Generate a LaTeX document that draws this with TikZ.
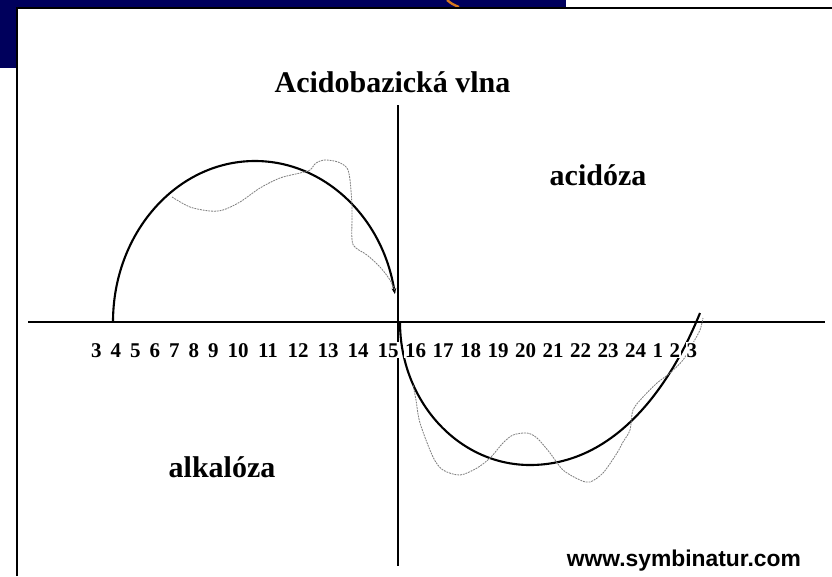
\documentclass[tikz,border=0pt]{standalone}
\usepackage{fontspec}
\setmainfont{Liberation Serif}
\newfontfamily\urlfont{Liberation Sans}
\usetikzlibrary{arrows.meta}
\definecolor{slideblue}{RGB}{0,0,92}
\definecolor{swirl}{RGB}{214,120,30}

\begin{document}
\begin{tikzpicture}[x=0.03cm,y=-0.03cm,
  axis/.style={line width=1.9pt},
  wave/.style={line width=1.8pt},
  trace/.style={line width=0.7pt,gray,dash pattern=on 1.6pt off 0.8pt},
  hour/.style={fill=white,inner sep=0.6pt,anchor=base,font=\fontsize{17.9}{20}\selectfont\bfseries},
  zone/.style={anchor=base,font=\fontsize{25.6}{30}\selectfont\bfseries}]
\useasboundingbox (0,0) rectangle (832,576);
% slide behind the picture
\fill[white] (0,0) rectangle (832,576);
\fill[slideblue] (0,0) rectangle (566,7);
\fill[slideblue] (0,0) rectangle (16,68);
\draw[swirl,line width=2pt] (447,0) .. controls (452,4) .. (459,7);
\draw[line width=1.8pt] (17,576) -- (17,8) -- (832,8);
% axes
\coordinate (W) at (28,322);
\coordinate (E) at (825,322);
\coordinate (N) at (398,105);
\coordinate (S) at (398,566);
\draw[axis] (W) -- (E);
\draw[axis] (N) -- (S);
% the two half waves
\coordinate (A) at (113,322);
\coordinate (B) at (400,322);
\coordinate (C) at (700,313);
\draw[wave,-{Stealth[length=5pt,width=4pt]}] (A) arc (180:350:142 and 161);
\draw[wave] (B) arc (180:90:130 and 143) .. controls (612,465) and (668,392) .. (C);
% measured course
\draw[trace] plot[smooth] coordinates {(172,197) (190,207) (210,211) (223,210) (240,202)
  (260,188) (280,178) (300,173) (310,170) (316,163) (325,160) (338,162) (347,168)
  (350,180) (352,207) (352,240) (356,248) (367,255) (380,267) (390,280) (396,293)};
\draw[trace] plot[smooth] coordinates {(413,385) (416,400) (420,423) (433,457) (443,470)
  (460,475) (477,468) (490,458) (503,443) (513,435) (527,433) (537,438) (550,453)
  (563,470) (580,480) (590,482) (603,473) (617,453) (623,442) (630,430) (633,410)
  (643,397) (657,383) (670,373) (683,360) (693,343) (700,330) (703,318)};
% hours
\foreach \n/\x [count=\i] in {3/96.3,4/115.8,5/135.3,6/154.8,7/174.3,8/193.8,9/213.3,
  10/238,11/268,12/298,13/328,14/358,15/388,
  16/415.5,17/443,18/470.5,19/498,20/525.5,21/553,22/580.5,23/608,24/635.5,
  1/657.8,2/674.8,3/691.8}
  \node[hour] (h\i) at (\x,357) {\n};
% texts
\node[zone] (title) at (392.5,92) {Acidobazická vlna};
\node[zone] (acid) at (598,185) {acidóza};
\node[zone] (alka) at (222,477) {alkalóza};
\node[anchor=base east,font=\urlfont\bfseries\fontsize{19.5}{22}\selectfont] (web) at (805,566) {www.symbinatur.com};
\end{tikzpicture}
\end{document}
